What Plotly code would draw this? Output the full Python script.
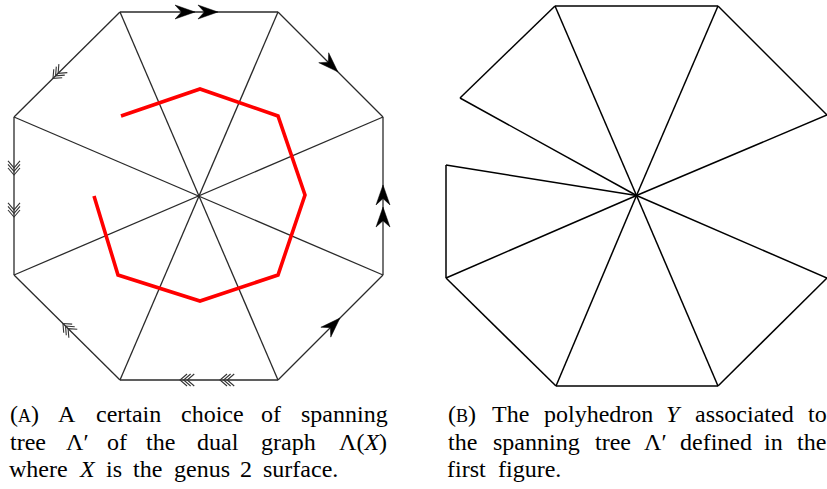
import plotly.graph_objects as go

# ---------------- data (coordinates in the figure's own units, y downward) -------------
# Figure (A): octagon with its four diagonals
oct_x = [120, 278, 383, 383, 278, 120, 14, 14]
oct_y = [12, 12, 117, 275, 380, 380, 275, 117]
center_a = [199, 196]
# spanning tree (red path)
tree_x = [121, 200, 278, 305, 278, 200, 118, 94]
tree_y = [116, 89, 116, 195, 275, 301, 275, 196]
# edge decorations: (from vertex, to vertex, tip fractions along edge)
filled_marks = [(0, 1, [0.475, 0.62]), (1, 2, [0.57]), (3, 2, [0.43, 0.57]), (4, 3, [0.59])]
chevron_marks = [(0, 7, [0.632]), (7, 6, [0.367, 0.633]), (5, 6, [0.538]), (4, 5, [0.367, 0.62])]

# Figure (B): polyhedron Y
center_b = [636.5, 195.5]
poly_x = [555, 718, 827, 827, 718, 556, 446, 446, 460]
poly_y = [6, 6, 115, 278, 386, 386, 278, 165, 98]
poly_edges = [(0, 1), (1, 2), (2, 'c'), ('c', 3), (3, 4), (4, 5), (5, 6), (6, 7), (7, 'c'),
              ('c', 8), (8, 0), ('c', 0), ('c', 1), ('c', 4), ('c', 5), ('c', 6)]

# Captions: lines of words; each word = list of (text, style) segments
caption_a = [
    [[("(", "r"), ("A", "sc"), (")", "r")], [("A", "r")], [("certain", "r")], [("choice", "r")],
     [("of", "r")], [("spanning", "r")]],
    [[("tree", "r")], [("Λ′", "r")], [("of", "r")], [("the", "r")], [("dual", "r")],
     [("graph", "r")], [("Λ(", "r"), ("X", "i"), (")", "r")]],
    [[("where", "r")], [("X", "i")], [("is", "r")], [("the", "r")], [("genus", "r")],
     [("2", "r")], [("surface.", "r")]],
]
caption_b = [
    [[("(", "r"), ("B", "sc"), (")", "r")], [("The", "r")], [("polyhedron", "r")], [("Y", "i")],
     [("associated", "r")], [("to", "r")]],
    [[("the", "r")], [("spanning", "r")], [("tree", "r")], [("Λ′", "r")], [("defined", "r")],
     [("in", "r")], [("the", "r")]],
    [[("first", "r")], [("figure.", "r")]],
]
line_y = [414, 442, 469]

# ---------------- helpers -------------
CM = {'a': .5, 'b': .556, 'c': .444, 'd': .556, 'e': .444, 'f': .306, 'g': .5, 'h': .556, 'i': .278,
      'l': .278, 'm': .833, 'n': .556, 'o': .5, 'p': .556, 'r': .392, 's': .394, 't': .389, 'u': .556,
      'w': .722, 'y': .528, '(': .389, ')': .389, '.': .278, '2': .5, 'A': .75, 'T': .722,
      'Λ': .694, '′': .275}
CM_I = {'X': .828, 'Y': .62}
EM = 23.5
FS = 24


def word_width(segs):
    w = 0
    for txt, st in segs:
        for ch in txt:
            if st == 'i':
                w += CM_I.get(ch, .6)
            elif st == 'sc':
                w += .61
            else:
                w += CM.get(ch, .5)
    return w * EM


def word_html(segs):
    out = ""
    for txt, st in segs:
        if st == 'i':
            out += "<i>" + txt + "</i>"
        elif st == 'sc':
            out += '<span style="font-size:%dpx">%s</span>' % (int(FS * 0.78), txt)
        else:
            out += txt
    return out


def layout_caption(lines, x0, x1):
    anns = []
    for li, words in enumerate(lines):
        ws = [word_width(w) for w in words]
        justified = li < len(lines) - 1
        gap = (x1 - x0 - sum(ws)) / (len(ws) - 1) if justified else 0.333 * EM + 1.5
        x = x0
        for w, segs in zip(ws, words):
            anns.append(dict(x=x + w / 2, y=line_y[li], text=word_html(segs), xref="x", yref="y",
                             xanchor="center", yanchor="middle", showarrow=False,
                             font=dict(family="Liberation Serif", size=FS, color="black")))
            x += w + gap
    return anns


def seg_lines(pairs):
    xs, ys = [], []
    for (ax, ay), (bx, by) in pairs:
        xs += [ax, bx, None]
        ys += [ay, by, None]
    return xs, ys


fig = go.Figure()

# ----- figure A edges -----
pairs = []
for i in range(8):
    j = (i + 1) % 8
    pairs.append(((oct_x[i], oct_y[i]), (oct_x[j], oct_y[j])))
for i in range(4):
    pairs.append(((oct_x[i], oct_y[i]), (oct_x[i + 4], oct_y[i + 4])))
ex, ey = seg_lines(pairs)
fig.add_trace(go.Scatter(x=ex, y=ey, mode="lines", line=dict(color="#2a2a2a", width=1.3),
                         hoverinfo="skip"))

# red tree
fig.add_trace(go.Scatter(x=tree_x, y=tree_y, mode="lines", line=dict(color="#ff0000", width=3.6),
                         hoverinfo="skip"))


def edge_point(i, j, f):
    ax, ay, bx, by = oct_x[i], oct_y[i], oct_x[j], oct_y[j]
    L = ((bx - ax) ** 2 + (by - ay) ** 2) ** 0.5
    return ax + f * (bx - ax), ay + f * (by - ay), (bx - ax) / L, (by - ay) / L


# filled arrowheads
for i, j, fr in filled_marks:
    for f in fr:
        tx, ty, dx, dy = edge_point(i, j, f)
        nx, ny = -dy, dx
        Lh, W, notch = 20, 14, 0.68
        bx, by = tx - Lh * dx, ty - Lh * dy
        px = [tx, bx + W / 2 * nx, tx - notch * Lh * dx, bx - W / 2 * nx, tx]
        py = [ty, by + W / 2 * ny, ty - notch * Lh * dy, by - W / 2 * ny, ty]
        fig.add_trace(go.Scatter(x=px, y=py, mode="lines", fill="toself", fillcolor="black",
                                 line=dict(color="black", width=0.5), hoverinfo="skip"))

# open triple chevrons
cxs, cys = [], []
for i, j, fr in chevron_marks:
    for f in fr:
        tx, ty, dx, dy = edge_point(i, j, f)
        nx, ny = -dy, dx
        for k in range(3):
            px, py = tx - k * 3.6 * dx, ty - k * 3.6 * dy
            a, b = 7, 6
            cxs += [px - a * dx + b * nx, px, px - a * dx - b * nx, None]
            cys += [py - a * dy + b * ny, py, py - a * dy - b * ny, None]
fig.add_trace(go.Scatter(x=cxs, y=cys, mode="lines", line=dict(color="#333333", width=1.1),
                         hoverinfo="skip"))

# ----- figure B -----
def pb(k):
    return tuple(center_b) if k == 'c' else (poly_x[k], poly_y[k])


bx_, by_ = seg_lines([(pb(a), pb(b)) for a, b in poly_edges])
fig.add_trace(go.Scatter(x=bx_, y=by_, mode="lines", line=dict(color="black", width=1.5),
                         hoverinfo="skip", cliponaxis=False))

annotations = layout_caption(caption_a, 8, 390) + layout_caption(caption_b, 446, 828)

fig.update_layout(
    width=827, height=489, autosize=False,
    margin=dict(l=0, r=0, t=0, b=0),
    paper_bgcolor="white", plot_bgcolor="white",
    showlegend=False,
    xaxis=dict(range=[0, 827], visible=False, fixedrange=True),
    yaxis=dict(range=[489, 0], visible=False, fixedrange=True),
    annotations=annotations,
)

fig.write_html("out.html", config={"displayModeBar": False},
               post_script="document.body.style.margin='0';document.body.style.overflow='hidden';")
